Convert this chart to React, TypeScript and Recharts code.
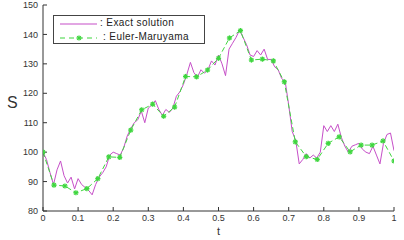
import React from "react";
import { LineChart, Line, XAxis, YAxis, Label } from "recharts";

// exact solution, sampled every 0.01 in t
const exactStep = 0.01;
const exactS = [
  100, 97.5, 93, 89, 94, 97, 92, 89.5, 91.5, 87.5,
  91, 89, 88, 87, 85.5, 89, 91.5, 93, 95, 99,
  100, 99.5, 99, 101.5, 105.5, 108, 110, 111, 114, 110,
  115, 116, 117.5, 114.5, 112.5, 114.5, 113.5, 115, 119, 120.5,
  123, 126.5, 130.5, 127, 125.5, 128, 126.8, 128, 131, 129.6,
  133, 130, 126, 135, 137, 139, 141.5, 139, 136.5, 133,
  132.5, 134.5, 133, 135, 131.5, 131.5, 129, 128, 125, 124,
  116, 107, 104, 96, 97.5, 99.5, 98, 99, 98, 100,
  109, 107, 109, 107, 109.5, 105, 102, 100, 102, 102.5,
  103, 101, 100, 99.5, 102, 99, 96, 103, 106, 106.5,
  100.5,
];

// Euler-Maruyama, dt = 1/32
const emStep = 1 / 32;
const emS = [
  100, 88.8, 88.5, 86.2, 87.6, 91, 98.4, 98.2, 107.5, 114.4,
  116.3, 112.2, 115.3, 125.7, 125.6, 127.9, 131.9, 138.8, 141.3, 131.3,
  131.6, 131, 123.9, 103.5, 98.5, 97.5, 103, 105.2, 100.1, 102.4,
  102.4, 103.8, 97,
];

const xTicks = [0, 0.1, 0.2, 0.3, 0.4, 0.5, 0.6, 0.7, 0.8, 0.9, 1];
const yTicks = [80, 90, 100, 110, 120, 130, 140, 150];

const exactData = exactS.map((s, i) => ({ t: i * exactStep, s }));
const emData = emS.map((s, i) => ({ t: i * emStep, s }));

const FONT = "'Liberation Sans', Arial, sans-serif";
const MAGENTA = "#c64fc8";
const GREEN = "#3fd63f";
const AXIS = "#333";

const tickStyle = { fontSize: 9, fill: "#333", fontFamily: FONT };

function StarDot(props: any) {
  const { cx, cy, index } = props;
  if (cx == null || cy == null) return <g key={index} />;
  const r = 2.6;
  const d = r * 0.72;
  return (
    <g key={index} stroke={GREEN} strokeWidth={1.3}>
      <line x1={cx - r} y1={cy} x2={cx + r} y2={cy} />
      <line x1={cx} y1={cy - r} x2={cx} y2={cy + r} />
      <line x1={cx - d} y1={cy - d} x2={cx + d} y2={cy + d} />
      <line x1={cx - d} y1={cy + d} x2={cx + d} y2={cy - d} />
    </g>
  );
}

function ChartLegend() {
  return (
    <div
      style={{
        position: "absolute",
        left: 53,
        top: 15,
        width: 152,
        height: 29,
        boxSizing: "border-box",
        border: "1px solid #444",
        background: "#fff",
        fontFamily: FONT,
        fontSize: 10,
        letterSpacing: 0.4,
        lineHeight: "12px",
        color: "#222",
      }}
    >
      <svg width={150} height={27} style={{ position: "absolute", left: 0, top: 0 }}>
        <line x1={6} y1={8} x2={43} y2={8} stroke={MAGENTA} strokeWidth={1.2} />
        <line x1={6} y1={22} x2={43} y2={22} stroke={GREEN} strokeWidth={1.2} strokeDasharray="5 4" />
        <StarDot cx={25} cy={22} index={0} />
      </svg>
      <div style={{ position: "absolute", left: 46, top: 1, whiteSpace: "nowrap" }}>: Exact solution</div>
      <div style={{ position: "absolute", left: 49, top: 15, whiteSpace: "nowrap" }}>: Euler-Maruyama</div>
    </div>
  );
}

export default function App() {
  return (
    <div style={{ position: "absolute", left: 0, top: 0, width: 404, height: 240, background: "#fff" }}>
      <LineChart width={404} height={240} margin={{ top: 5, right: 10, bottom: 0, left: 0 }}>
        <XAxis
          type="number"
          dataKey="t"
          domain={[0, 1]}
          ticks={xTicks}
          allowDataOverflow
          height={29}
          tickSize={-4}
          tickMargin={8}
          tick={tickStyle}
          stroke={AXIS}
        >
          <Label value="t" position="insideBottom" offset={5} style={{ fontSize: 11, fill: "#333", fontFamily: FONT }} />
        </XAxis>
        <XAxis
          xAxisId="top"
          orientation="top"
          type="number"
          dataKey="t"
          domain={[0, 1]}
          ticks={xTicks}
          height={0}
          tickSize={-4}
          tick={false}
          stroke={AXIS}
        />
        <YAxis
          type="number"
          domain={[80, 150]}
          ticks={yTicks}
          allowDataOverflow
          width={43}
          tickSize={-4}
          tickMargin={9}
          tick={tickStyle}
          stroke={AXIS}
        >
          <Label
            content={(p: any) => {
              const vb = p.viewBox || {};
              return (
                <text x={(vb.x || 0) + 7} y={(vb.y || 0) + vb.height / 2 - 4} fontSize={16} fill="#333" fontFamily={FONT} dominantBaseline="middle">
                  S
                </text>
              );
            }}
          />
        </YAxis>
        <YAxis
          yAxisId="right"
          orientation="right"
          type="number"
          domain={[80, 150]}
          ticks={yTicks}
          width={0}
          tickSize={-4}
          tick={false}
          stroke={AXIS}
        />
        <Line
          data={exactData}
          dataKey="s"
          type="linear"
          stroke={MAGENTA}
          strokeWidth={1}
          dot={false}
          isAnimationActive={false}
        />
        <Line
          data={emData}
          dataKey="s"
          type="linear"
          stroke={GREEN}
          strokeWidth={1}
          strokeDasharray="5 3"
          dot={StarDot}
          isAnimationActive={false}
        />
      </LineChart>
      <ChartLegend />
    </div>
  );
}
